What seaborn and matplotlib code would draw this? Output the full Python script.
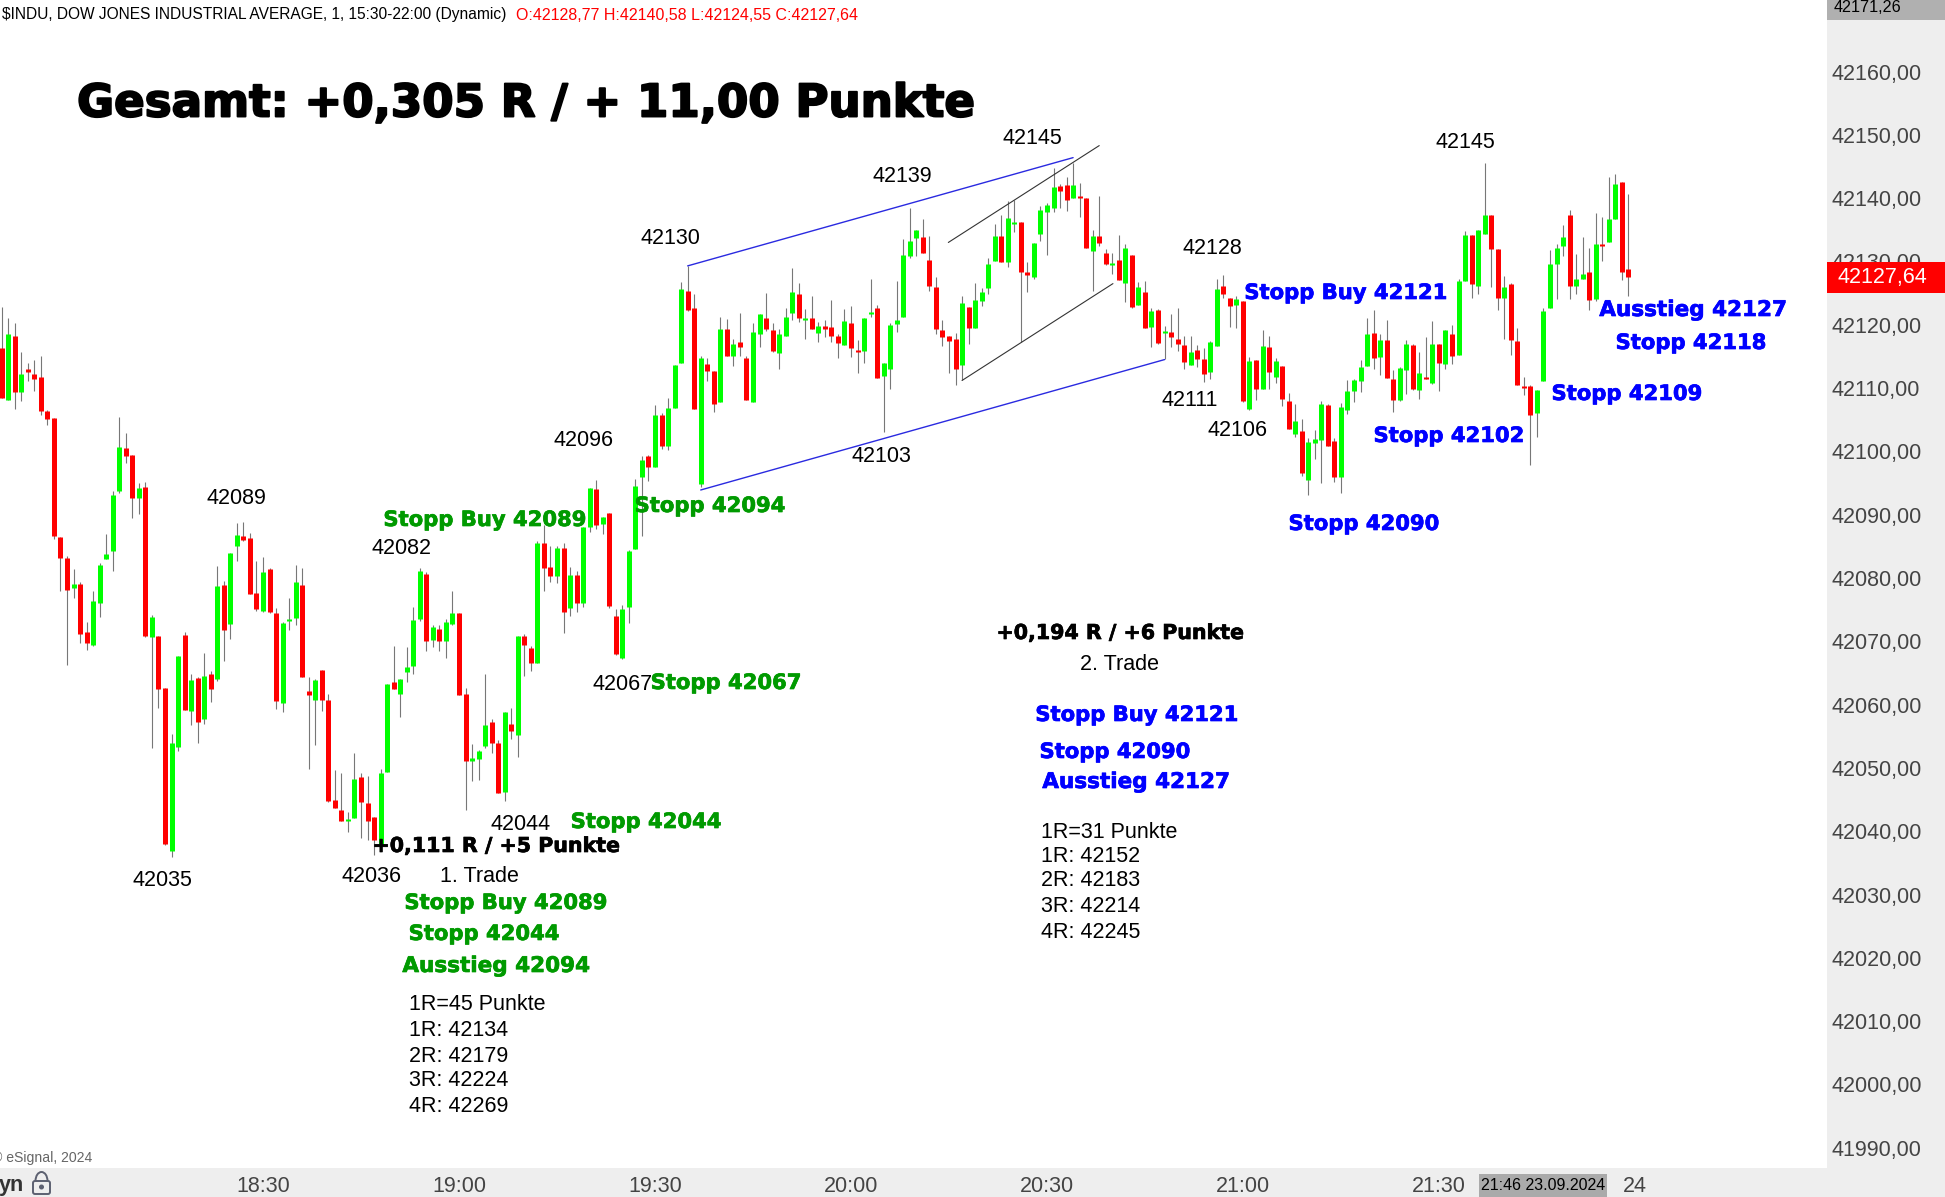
import numpy as np
import pandas as pd
import matplotlib
matplotlib.use("Agg")
import matplotlib.pyplot as plt
import matplotlib.patheffects as pe
import seaborn as sns
from matplotlib.patches import Rectangle, FancyBboxPatch, Arc, Circle
from matplotlib.transforms import IdentityTransform

# prices are points above this base
price_base = 42000

opens = [
    116.4,108.1,118.2,109.4,113.0,112.3,111.7,106.3,105.2,86.5,
    83.2,78.4,79.0,71.5,69.4,76.0,83.0,84.3,93.7,100.5,
    99.4,92.6,94.4,70.7,70.8,62.6,36.9,53.3,71.0,59.0,
    64.2,57.8,64.8,64.1,78.9,72.7,85.0,86.6,86.3,77.6,
    74.8,81.4,74.5,60.3,73.2,73.7,78.9,62.1,60.7,65.5,
    60.7,45.0,43.4,41.6,42.1,48.6,44.5,42.3,38.0,49.4,
    63.6,61.7,65.2,66.1,73.5,80.6,70.2,71.9,70.0,72.8,
    74.4,61.6,51.1,51.4,53.4,57.2,53.9,46.2,56.9,55.2,
    70.8,68.9,66.5,85.6,81.8,80.3,84.8,75.2,80.4,76.0,
    88.0,94.0,88.6,90.2,74.0,67.3,75.4,84.5,96.0,99.2,
    97.6,105.8,100.9,106.9,114.0,125.3,122.6,94.9,113.8,112.7,
    107.8,119.3,115.0,117.2,114.7,107.8,118.5,121.0,119.1,115.5,
    118.3,121.8,124.8,120.7,121.0,118.7,119.8,119.6,118.2,116.8,
    120.2,116.0,115.8,121.7,122.6,111.9,113.0,120.1,121.3,130.8,
    133.7,133.8,130.3,125.9,119.1,118.2,117.7,113.6,122.8,119.5,
    123.7,125.8,130.0,134.0,129.9,135.9,136.2,128.4,127.5,134.4,
    137.8,138.5,141.9,142.0,140.0,140.3,140.0,131.6,134.0,131.4,
    129.4,130.2,126.6,131.0,123.2,125.1,119.6,122.3,118.7,118.8,
    117.7,116.8,113.6,116.0,114.6,112.5,116.6,126.1,124.2,123.1,
    123.7,106.7,114.4,109.8,116.5,111.7,113.5,107.9,102.7,103.2,
    95.5,101.3,101.8,107.3,101.6,95.9,106.5,109.5,111.1,113.5,
    118.7,114.9,117.6,111.4,108.1,112.8,116.8,109.7,111.7,110.8,
    116.9,113.8,118.5,115.3,126.9,134.1,126.2,134.3,137.3,131.9,
    124.2,126.4,117.4,110.3,110.3,106.0,111.1,122.6,129.6,132.4,
    137.4,126.2,127.2,128.3,124.0,132.7,133.0,136.7,142.6,128.8,
]
highs = [
    122.8,121.0,120.3,115.7,113.9,114.4,115.0,106.6,105.2,86.5,
    83.4,81.4,79.4,73.1,78.0,82.3,87.0,93.7,105.4,102.9,
    99.4,95.0,95.1,74.2,70.8,62.6,55.4,67.7,71.5,64.8,
    64.3,68.2,65.3,81.9,79.5,83.9,88.7,88.8,87.1,82.7,
    83.3,81.5,75.3,73.1,76.9,82.0,81.6,64.4,64.0,65.5,
    61.7,49.7,49.2,43.1,52.4,49.2,48.7,42.3,49.8,63.3,
    69.3,64.1,69.1,75.4,81.5,80.9,72.6,72.6,73.6,78.0,
    74.4,62.6,53.8,52.9,64.8,57.8,54.4,58.8,59.4,70.8,
    71.1,69.2,85.8,88.4,85.1,85.1,85.5,81.8,81.1,88.0,
    94.2,95.4,89.7,90.3,75.1,75.8,84.4,95.6,99.2,99.5,
    107.4,106.0,108.5,113.7,126.7,129.3,124.8,115.1,114.7,112.7,
    121.3,120.9,117.7,121.8,115.0,120.2,121.7,125.0,120.2,119.3,
    122.6,128.9,126.6,122.5,124.5,120.4,120.7,123.9,118.5,122.5,
    122.9,117.6,121.0,127.2,123.2,113.9,120.2,126.9,133.5,138.5,
    134.9,136.7,134.0,127.5,120.7,118.2,118.7,124.5,122.8,126.6,
    125.8,130.5,135.9,137.4,139.5,139.7,136.2,129.9,132.9,138.7,
    139.3,144.7,142.3,143.4,145.5,142.4,140.0,134.9,140.4,131.9,
    131.3,134.1,132.7,131.0,126.7,126.9,122.6,122.5,119.8,121.7,
    122.6,118.3,118.2,116.8,116.3,117.4,127.3,127.8,124.3,124.5,
    123.7,114.9,114.4,119.1,118.2,114.7,113.5,109.2,107.5,105.1,
    102.1,103.4,107.9,107.5,102.1,107.6,111.2,111.4,114.4,121.0,
    122.3,118.5,120.7,112.8,113.3,117.6,116.9,115.7,118.0,120.6,
    116.9,119.1,119.9,127.2,134.8,134.1,134.9,145.5,137.3,131.9,
    127.7,126.6,119.5,111.7,110.5,109.7,122.6,131.8,132.7,135.7,
    138.1,131.1,133.8,132.2,137.6,137.1,143.3,143.8,142.6,140.6,
]
lows = [
    108.4,108.1,106.7,107.9,111.1,109.5,105.8,104.1,86.2,78.0,
    66.2,76.9,69.7,68.7,69.3,73.9,83.0,81.1,93.4,98.2,
    89.5,90.1,70.7,53.2,59.4,37.9,36.0,52.7,59.2,56.8,
    54.0,57.0,60.4,63.7,66.9,70.3,82.7,85.8,77.4,74.8,
    74.6,74.5,59.3,58.9,71.8,72.6,64.4,49.9,53.6,59.0,
    44.6,43.7,41.6,39.9,42.1,39.0,38.6,36.3,38.0,49.4,
    62.5,58.1,63.6,64.8,73.2,68.4,69.1,68.4,67.4,72.6,
    61.5,43.3,48.0,48.1,53.2,52.4,46.1,44.8,54.5,51.8,
    64.5,65.3,66.5,78.0,79.3,79.2,71.3,74.0,74.7,75.4,
    87.2,87.7,87.0,75.2,67.8,67.2,72.9,84.5,86.7,95.3,
    97.6,100.3,100.2,106.9,113.9,122.1,106.7,94.3,111.1,106.2,
    107.8,115.0,113.5,115.0,108.1,107.8,116.5,119.0,115.7,113.0,
    118.2,120.7,120.4,117.7,119.3,117.2,118.0,117.2,114.7,116.8,
    114.9,112.4,113.9,121.2,111.6,103.0,109.8,118.8,121.3,130.5,
    130.8,131.3,125.3,118.5,116.6,112.4,110.5,111.2,116.9,119.5,
    122.9,124.8,130.0,129.9,129.1,134.6,117.2,125.1,127.3,133.3,
    131.0,137.8,138.4,137.9,140.0,137.1,132.1,125.3,132.4,129.4,
    128.0,127.0,123.6,122.6,123.2,119.5,116.5,116.9,114.6,116.5,
    115.8,113.0,113.6,113.3,110.9,111.4,116.6,124.2,119.6,119.5,
    107.8,106.5,108.1,109.8,109.9,110.8,107.1,103.5,102.3,96.1,
    93.1,98.8,95.0,100.8,95.2,93.4,105.9,107.8,109.4,113.5,
    113.0,112.0,111.6,106.2,107.9,109.0,109.7,108.2,111.4,110.6,
    109.5,113.0,113.8,115.3,126.9,124.3,124.8,134.3,125.9,122.3,
    117.7,115.3,110.5,108.9,97.8,102.3,111.1,122.6,124.0,130.8,
    124.0,124.8,127.2,122.3,123.7,130.0,133.0,136.7,127.0,124.6,
]
closes = [
    108.4,118.5,109.3,112.3,112.5,111.4,106.4,105.1,86.7,83.2,
    78.1,79.0,71.1,69.7,76.4,82.0,83.8,93.1,100.7,99.3,
    92.6,94.2,70.8,73.8,62.5,38.0,54.0,67.7,59.2,63.9,
    57.2,64.5,62.5,78.7,71.8,83.9,86.8,86.0,77.4,75.1,
    80.9,74.6,60.6,72.9,73.5,79.4,64.4,61.5,63.9,60.7,
    44.8,43.7,41.6,41.9,48.2,44.6,41.6,38.6,49.2,63.3,
    62.5,64.1,65.9,73.3,81.1,70.0,72.2,70.0,73.0,74.4,
    61.5,51.1,51.5,52.7,56.7,53.9,46.1,58.8,55.8,70.8,
    69.4,66.5,85.6,81.6,80.3,84.8,74.7,80.4,76.0,88.0,
    94.2,88.3,89.7,75.5,68.0,75.1,84.2,94.6,98.6,97.6,
    105.8,100.8,106.9,113.7,125.6,122.3,106.7,114.7,112.7,107.5,
    119.3,115.0,116.9,116.5,108.1,118.8,121.7,119.3,115.8,118.5,
    121.3,125.1,121.0,121.0,119.3,119.8,119.3,118.2,117.1,120.6,
    116.3,115.7,121.0,122.0,111.6,113.9,119.9,120.7,131.0,133.2,
    134.9,131.4,126.1,119.3,118.0,117.4,113.0,123.4,119.5,123.9,
    125.1,129.6,134.0,129.9,136.8,136.2,128.4,127.8,132.9,138.2,
    138.9,141.7,141.2,139.7,142.0,140.0,132.2,134.0,132.9,129.6,
    129.7,127.0,132.1,122.8,125.9,119.5,122.1,117.1,119.0,118.0,
    116.9,114.1,115.7,114.6,112.2,117.2,125.6,124.8,122.9,124.0,
    107.9,114.2,109.8,116.6,112.5,114.2,108.2,103.5,104.8,96.6,
    101.5,101.9,107.5,100.8,95.9,107.0,109.5,111.2,113.3,118.5,
    114.7,117.6,111.6,108.1,113.1,116.9,109.8,112.4,111.4,116.9,
    113.9,119.1,115.0,126.9,134.1,126.4,134.9,137.4,131.9,124.3,
    125.9,117.6,110.5,110.0,105.7,109.7,122.1,129.6,132.2,133.8,
    126.2,127.3,128.0,123.9,132.7,132.4,136.7,142.2,128.3,127.6,
]

# axis labels
price_ticks = list(range(41990, 42170, 10))
time_bars = [40, 70, 100, 130, 160, 190, 220, 250]
time_labels = ["18:30", "19:00", "19:30", "20:00", "20:30", "21:00", "21:30", "24"]

# drawn trend lines: (bar, price) ends
channel_bars = [[105, 164], [107, 178]]
channel_prices = [[42129.3, 42146.4], [42093.9, 42114.5]]
wedge_bars = [[144.9, 168], [147, 170.1]]
wedge_prices = [[42133.0, 42148.3], [42111.2, 42126.5]]

W, H = 1945, 1197
sns.set_theme(style="white")
plt.rcParams["font.family"] = ["Liberation Sans", "DejaVu Sans"]

# long tables for the wicks and the bodies
bars = np.arange(len(opens))
o = np.array(opens) + price_base
h = np.array(highs) + price_base
l = np.array(lows) + price_base
c = np.array(closes) + price_base
side = np.where(c >= o, "up", "down")
wicks = pd.DataFrame({"bar": np.tile(bars, 2), "price": np.r_[l, h]})
bodies = pd.DataFrame({"bar": np.tile(bars, 2), "price": np.r_[o, c], "side": np.tile(side, 2)})

fig = plt.figure(figsize=(W / 100, H / 100), dpi=100, facecolor="#EEEEEE")
ax = fig.add_axes([0, 1 - 1168 / H, 1827 / W, 1168 / H], facecolor="white")

sns.lineplot(data=wicks, x="bar", y="price", units="bar", estimator=None, sort=False,
             color="#777777", linewidth=0.8, solid_capstyle="butt", legend=False, ax=ax)
sns.lineplot(data=bodies, x="bar", y="price", units="bar", hue="side", estimator=None, sort=False,
             palette={"up": "#00FF00", "down": "#FF0000"}, linewidth=3.6,
             solid_capstyle="butt", legend=False, ax=ax)

for xs, ys in zip(channel_bars, channel_prices):
    sns.lineplot(x=xs, y=ys, color="#2A2AE0", linewidth=1.0, estimator=None, ax=ax)
for xs, ys in zip(wedge_bars, wedge_prices):
    sns.lineplot(x=xs, y=ys, color="#333333", linewidth=0.8, estimator=None, ax=ax)

ax.set_xlim(-0.26, 279.4)
ax.set_ylim(41986.8, 42171.3)
ax.set_xlabel("")
ax.set_ylabel("")
sns.despine(ax=ax, left=True, bottom=True)
ax.yaxis.tick_right()
ax.set_yticks(price_ticks)
ax.set_yticklabels([f"{p},00" for p in price_ticks])
ax.set_xticks(time_bars)
ax.set_xticklabels(time_labels)
ax.tick_params(axis="y", length=0, pad=3, labelsize=15.5, labelcolor="#444444")
ax.tick_params(axis="x", length=0, pad=6, labelsize=15.5, labelcolor="#444444")


def box(x0, y0, x1, y1, color):
    fig.add_artist(Rectangle((x0 / W, 1 - y1 / H), (x1 - x0) / W, (y1 - y0) / H,
                             transform=fig.transFigure, facecolor=color, edgecolor="none"))


def note(txt, x, y, color="black", size=15.5, weight="normal", ha="center", family=None):
    return fig.text(x / W, 1 - y / H, txt, color=color, fontsize=size, fontweight=weight,
                    ha=ha, va="center", family=family)


def label(txt, x, y, ha="center"):
    note(txt, x, y + 2, ha=ha)


def bold(txt, x, y, color, size=15.2, stroke=0.5):
    t = note(txt, x, y + 2, color=color, size=size, weight="bold", family="DejaVu Sans")
    t.set_path_effects([pe.withStroke(linewidth=stroke, foreground=color)])


# price and date flags
box(1827, 0, W, 20, "#B0B0B0")
note("42171,26", 1834, 8, size=11.6, ha="left")
box(1827, 262, W, 293, "#FF0000")
note("42127,64", 1837, 277, color="white", ha="left")
box(1479, 1174, 1607, H, "#AAAAAA")
note("21:46 23.09.2024", 1481, 1186, size=11.5, ha="left")

# header line
note("$INDU, DOW JONES INDUSTRIAL AVERAGE, 1, 15:30-22:00 (Dynamic)", 2, 15, size=11.2, ha="left")
note("O:42128,77 H:42140,58 L:42124,55 C:42127,64", 516, 15, color="#FF0000", size=11.5, ha="left")
note("© eSignal, 2024", -7.5, 1158, color="#666666", size=10.1, ha="left")
note("yn", -1, 1185, color="#333333", weight="bold", ha="left")

# lock icon
lock = "#5C6070"
fig.add_artist(FancyBboxPatch((33, H - 1194), 17, 13, boxstyle="round,pad=0,rounding_size=2",
                              transform=IdentityTransform(), facecolor="none", edgecolor=lock, linewidth=1.4))
fig.add_artist(Arc((41.5, H - 1181), 12, 18, theta1=0, theta2=180,
                   transform=IdentityTransform(), color=lock, linewidth=1.4))
fig.add_artist(Circle((41.5, H - 1187), 1.8, transform=IdentityTransform(), color=lock))

bold("Gesamt: +0,305 R / + 11,00 Punkte", 526, 102, "black", size=32.5, stroke=1.4)

# swing labels
label("42145", 1032, 137)
label("42139", 902, 175)
label("42130", 670, 236)
label("42145", 1465, 141)
label("42128", 1212, 246)
label("42111", 1190, 398)
label("42106", 1237, 428)
label("42103", 881, 455)
label("42096", 583, 438)
label("42089", 236, 497)
label("42082", 402, 546)
label("42067", 623, 683)
label("42044", 521, 822)
label("42035", 162, 878)
label("42036", 372, 874)

# first trade
green = "#009A00"
bold("Stopp Buy 42089", 485, 518, green)
bold("Stopp 42094", 710, 504, green)
bold("Stopp 42067", 726, 681, green)
bold("Stopp 42044", 646, 820, green)
bold("+0,111 R / +5 Punkte", 496, 844, "black", size=14.8)
label("1. Trade", 479, 874)
bold("Stopp Buy 42089", 506, 901, green)
bold("Stopp 42044", 484, 932, green)
bold("Ausstieg 42094", 496, 964, green, size=15.5)
for txt, y in zip(["1R=45 Punkte", "1R: 42134", "2R: 42179", "3R: 42224", "4R: 42269"],
                  [1003, 1029, 1054, 1079, 1104]):
    label(txt, 409, y, ha="left")

# second trade
blue = "#0000FF"
bold("Stopp Buy 42121", 1346, 291, blue)
bold("Ausstieg 42127", 1693, 308, blue, size=15.5)
bold("Stopp 42118", 1691, 341, blue)
bold("Stopp 42109", 1627, 392, blue)
bold("Stopp 42102", 1449, 434, blue)
bold("Stopp 42090", 1364, 522, blue)
bold("+0,194 R / +6 Punkte", 1120, 631, "black", size=14.8)
label("2. Trade", 1119, 663)
bold("Stopp Buy 42121", 1137, 713, blue)
bold("Stopp 42090", 1115, 750, blue)
bold("Ausstieg 42127", 1136, 780, blue, size=15.5)
for txt, y in zip(["1R=31 Punkte", "1R: 42152", "2R: 42183", "3R: 42214", "4R: 42245"],
                  [830, 855, 879, 904, 930]):
    label(txt, 1041, y, ha="left")

fig.savefig("out.png", dpi=100, facecolor=fig.get_facecolor())
